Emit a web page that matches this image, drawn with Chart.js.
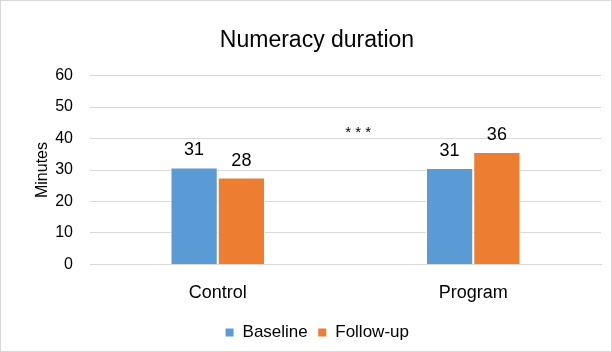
<!DOCTYPE html>
<html>
<head>
<meta charset="utf-8">
<script src="https://cdn.jsdelivr.net/npm/chart.js@4/dist/chart.umd.min.js"></script>
<style>
  html, body { margin: 0; padding: 0; background: #fff; }
  #wrap { position: relative; width: 610px; height: 350px; border: 1px solid #d9d9d9; }
</style>
</head>
<body>
<div id="wrap"><canvas id="grafico"></canvas></div>
<script>
// datos
const categorias = ['Control', 'Program'];
const baseline = [30.8, 30.6];
const followUp = [27.6, 35.7];
const ticksY = [0, 10, 20, 30, 40, 50, 60];
const marcaSig = { texto: '* * *', posicion: 0.55, valor: 42 };

const fuente = "'Liberation Sans', Arial, sans-serif";

// etiquetas encima de cada barra + asteriscos entre grupos
const etiquetas = {
  id: 'etiquetas',
  afterDatasetsDraw(chart) {
    const ctx = chart.ctx;
    ctx.save();
    ctx.fillStyle = '#000';
    ctx.font = '18px ' + fuente;
    ctx.textAlign = 'center';
    ctx.textBaseline = 'bottom';
    chart.data.datasets.forEach((ds, i) => {
      chart.getDatasetMeta(i).data.forEach((bar, j) => {
        ctx.fillText(Math.round(ds.data[j]), bar.x, bar.y - 8);
      });
    });
    const x = chart.scales.x.getPixelForValue(marcaSig.posicion);
    const y = chart.scales.y.getPixelForValue(marcaSig.valor);
    ctx.font = '15px ' + fuente;
    ctx.textBaseline = 'middle';
    ctx.fillText(marcaSig.texto, x, y + 1);
    ctx.restore();
  }
};

new Chart(document.getElementById('grafico'), {
  type: 'bar',
  data: {
    labels: categorias,
    datasets: [
      {
        label: 'Baseline',
        data: baseline,
        backgroundColor: '#5b9bd5',
        borderColor: '#ffffff',
        borderWidth: 1,
        categoryPercentage: 0.37,
        barPercentage: 1
      },
      {
        label: 'Follow-up',
        data: followUp,
        backgroundColor: '#ed7d31',
        borderColor: '#ffffff',
        borderWidth: 1,
        categoryPercentage: 0.37,
        barPercentage: 1
      }
    ]
  },
  options: {
    responsive: true,
    maintainAspectRatio: false,
    animation: false,
    layout: { padding: { left: 32, right: 10, top: 8, bottom: 0 } },
    plugins: {
      title: {
        display: true,
        text: 'Numeracy duration',
        color: '#000',
        font: { family: fuente, size: 23, weight: 'normal' },
        padding: { top: 18, bottom: 21 }
      },
      legend: {
        position: 'bottom',
        labels: {
          color: '#000',
          font: { family: fuente, size: 17 },
          boxWidth: 9,
          boxHeight: 9,
          padding: 10
        }
      },
      tooltip: { enabled: false }
    },
    scales: {
      x: {
        grid: { display: false },
        border: { color: '#d9d9d9' },
        ticks: { color: '#000', font: { family: fuente, size: 18 }, padding: 10 }
      },
      y: {
        min: 0,
        max: 60,
        afterBuildTicks(scale) {
          scale.ticks = ticksY.map(v => ({ value: v }));
        },
        afterFit(scale) {
          scale.width = 57;
        },
        grid: { color: '#d9d9d9', lineWidth: 1, drawTicks: false },
        border: { display: false },
        ticks: { color: '#000', font: { family: fuente, size: 16 }, padding: 17 },
        title: {
          display: true,
          text: 'Minutes',
          color: '#000',
          font: { family: fuente, size: 16 },
          padding: 0
        }
      }
    }
  },
  plugins: [etiquetas]
});
</script>
</body>
</html>
